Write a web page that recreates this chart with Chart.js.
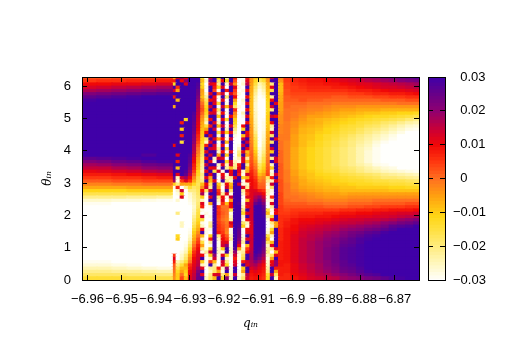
<!DOCTYPE html>
<html>
<head>
<meta charset="utf-8">
<script src="https://cdn.jsdelivr.net/npm/chart.js@4"></script>
<style>
html, body { margin: 0; padding: 0; background: #fff; }
canvas { position: absolute; left: 0; top: 0; }
</style>
</head>
<body>
<canvas id="map" width="505" height="355"></canvas>
<canvas id="bar" width="505" height="355"></canvas>
<script>
// axes
const xTickValues = [-6.96, -6.95, -6.94, -6.93, -6.92, -6.91, -6.9, -6.89, -6.88, -6.87];
const yTickValues = [0, 1, 2, 3, 4, 5, 6];
const zTickValues = [-30, -20, -10, 0, 10, 20, 30];
const zTickLabels = ['-0.03', '-0.02', '-0.01', '0', '0.01', '0.02', '0.03'];

// cell centres along q_in: wide cells where the map is smooth, narrow ones in the chaotic band
const qLeft = [-6.9594, -6.955, -6.9506, -6.9462, -6.9418, -6.9374];
const qMid = [-6.9346, -6.9334, -6.9322, -6.931, -6.9298, -6.9286, -6.9274, -6.9262, -6.925, -6.9238, -6.9226, -6.9214, -6.9202,
  -6.919, -6.9178, -6.9166, -6.9154, -6.9142, -6.913, -6.9118, -6.9106, -6.9094, -6.9082, -6.907, -6.9058, -6.9046, -6.9034];
const qRight = [-6.9016, -6.8992, -6.8968, -6.8944, -6.892, -6.8896, -6.8872, -6.8848, -6.8824, -6.88, -6.8776, -6.8752, -6.8728, -6.8704, -6.868, -6.8656, -6.8632];
// lower edge of each row along theta_in, last value closes the top row
const thetaEdges = [0, 0.1, 0.2, 0.3, 0.4, 0.5, 0.6, 0.7, 0.8, 0.9, 1, 1.1, 1.2, 1.3, 1.4, 1.5, 1.6, 1.7, 1.8, 1.9,
  2, 2.1, 2.2, 2.3, 2.4, 2.5, 2.6, 2.7, 2.8, 2.9, 3, 3.1, 3.2, 3.3, 3.4, 3.5, 3.6, 3.7, 3.8, 3.9,
  4, 4.1, 4.2, 4.3, 4.4, 4.5, 4.6, 4.7, 4.8, 4.9, 5, 5.1, 5.2, 5.3, 5.4, 5.5, 5.6, 5.7, 5.8, 5.9, 6, 6.1, 6.2, 6.3];

// values in units of 0.001, one list per row, top row first
const row62 = [3,3,4,4,4,5, -5,12,18,10,30,30,30,-12,-30,14,30,-10,30,-22,30,8,-28,-30,8,-3,-8,-14,-10,-2,14,30,-2, 5,7,8,9,10,11,12,14,15,16,18,19,21,22,24,25,27];
const row61 = [5,6,6,7,7,8, 8,30,10,20,30,30,30,-8,-26,22,30,-18,10,-12,30,3,-30,-28,12,-4,-12,-18,-14,-4,30,30,-4, 5,7,8,9,9,10,11,12,13,14,16,17,18,19,21,22,23];
const row60 = [10,10,11,11,12,13, -12,30,30,12,30,30,28,-12,-30,12,10,-22,30,-26,14,-3,-30,-26,16,-5,-15,-24,-20,-6,-20,30,-8, 4,6,7,8,8,9,9,10,11,12,12,13,14,15,16,17,18];
const row59 = [13,14,15,16,17,18, 30,6,30,30,30,30,27,-10,-28,30,8,-12,12,-30,30,12,-28,-30,30,-6,-18,-26,-22,-7,12,30,-8, 4,5,6,7,7,7,8,8,9,10,11,12,13,13,14,15,16];
const row58 = [17,18,19,20,21,22, 14,-5,30,30,30,30,25,-5,-30,30,4,-28,30,8,30,5,-30,-28,12,-6,-20,-28,-24,-8,-15,30,-8, 3,5,5,6,6,6,6,6,7,8,8,9,10,11,11,12,13];
const row57 = [22,23,24,25,26,27, 30,30,30,30,30,30,24,-6,-26,12,30,2,14,-30,12,2,-28,-30,30,-7,-22,-29,-26,-9,30,30,-7, 3,4,4,4,4,4,4,4,5,5,6,7,7,8,8,9,10];
const row56 = [26,27,28,29,30,30, 8,30,30,30,30,30,22,-8,-22,30,10,-28,30,-18,30,10,-30,-30,10,-8,-24,-30,-28,-10,-22,30,-6, 2,3,3,3,3,3,2,2,3,3,3,4,4,5,5,6,6];
const row55 = [29,30,30,30,30,30, 30,-8,30,30,30,30,20,-4,-18,10,14,-30,12,-30,30,-5,-30,-26,30,-8,-25,-30,-30,-11,10,30,-6, 2,2,3,2,2,1,1,1,1,1,1,1,2,2,2,3,3];
const row54 = [30,30,30,30,30,30, 30,30,30,30,30,30,18,0,-15,30,12,-14,30,-28,30,-12,-30,-28,12,-8,-26,-30,-30,-12,30,12,-5, 1,1,1,0,0,0,-1,-1,-1,-1,-1,-1,-1,-1,0,0,0];
const row53 = [30,30,30,30,30,30, -6,30,30,30,30,30,17,2,-12,14,30,-30,14,-8,14,-18,-28,-30,30,-8,-26,-30,-30,-12,14,30,-5, 1,0,0,-1,-1,-2,-3,-3,-3,-4,-4,-4,-4,-4,-4,-4,-4];
const row52 = [30,30,30,30,30,30, 30,30,30,30,30,30,16,3,-10,30,10,-18,30,-30,30,6,-30,-30,10,-8,-26,-30,-30,-12,-20,30,-5, 0,0,-1,-2,-2,-3,-4,-5,-5,-6,-6,-6,-7,-7,-7,-7,-7];
const row51 = [30,30,30,30,30,30, 30,30,30,30,30,28,15,1,-12,12,14,-24,10,-28,30,-2,-30,-24,30,-8,-25,-30,-30,-11,30,30,-4, 0,-1,-2,-3,-4,-5,-6,-7,-7,-8,-9,-9,-10,-10,-11,-11,-12];
const row50 = [30,30,30,30,30,30, 30,30,30,30,30,27,14,-2,-15,30,30,-10,30,-30,10,-5,-30,-28,12,-7,-25,-30,-30,-10,14,10,-3, 0,-1,-3,-5,-5,-6,-7,-8,-9,-10,-11,-12,-12,-13,-14,-15,-16];
const row49 = [30,30,30,30,30,30, 30,30,30,-12,30,27,13,-4,-20,10,30,-28,12,-14,30,-10,-30,-30,30,-6,-24,-30,-29,-10,30,30,-3, 0,-2,-4,-6,-7,-8,-9,-10,-11,-12,-13,-14,-15,-16,-17,-19,-21];
const row48 = [30,30,30,30,30,30, 30,30,8,30,30,26,12,-6,-25,30,12,-25,30,-30,30,-12,-30,-30,10,-6,-24,-30,-28,-10,10,30,-3, -1,-3,-5,-6,-7,-9,-10,-11,-12,-14,-15,-16,-18,-19,-21,-23,-24];
const row47 = [30,30,30,30,30,30, 30,30,30,30,30,25,11,-7,-14,8,30,-8,14,-28,14,-16,-30,10,30,-5,-23,-30,-28,-9,-22,30,-2, -1,-3,-6,-7,-8,-10,-11,-13,-14,-15,-17,-18,-20,-22,-24,-26,-27];
const row46 = [30,30,30,30,30,30, 30,30,-10,30,30,25,10,-8,-5,30,14,-30,30,-25,30,-20,-30,-12,30,-4,-22,-30,-28,-8,-25,30,-2, -1,-4,-7,-8,-9,-11,-12,-14,-15,-17,-19,-20,-22,-24,-26,-28,-29];
const row45 = [30,30,30,30,30,30, 30,30,30,30,30,24,9,-9,10,30,30,-14,12,-10,12,-24,-30,30,10,-4,-20,-30,-27,-7,14,30,-2, -1,-4,-7,-8,-10,-11,-13,-15,-16,-18,-20,-22,-24,-26,-28,-30,-30];
const row44 = [30,30,30,30,30,30, 30,30,8,30,30,22,7,-10,30,12,30,-28,30,-30,30,-28,-30,-8,12,-3,-18,-30,-26,-6,-18,30,-1, -1,-5,-8,-9,-11,-13,-14,-16,-18,-20,-22,-24,-26,-28,-30,-30,-30];
const row43 = [30,30,30,30,30,30, 30,30,30,30,30,21,6,-11,-18,30,12,-6,10,-28,14,-30,-30,14,30,-3,-16,-30,-25,-5,30,12,-1, -1,-5,-8,-9,-11,-13,-15,-17,-19,-21,-23,-25,-27,-29,-30,-30,-30];
const row42 = [30,30,30,30,30,30, 30,30,-14,30,30,20,4,-12,-25,12,30,-30,30,-8,30,-30,-30,30,14,-2,-15,-30,-24,-5,-18,30,0, -2,-5,-8,-10,-12,-14,-16,-18,-20,-22,-24,-27,-29,-30,-30,-30,-30];
const row41 = [30,30,30,30,30,30, 10,30,30,30,30,18,2,-14,8,30,14,-28,12,-30,30,-30,-28,14,30,-1,-14,-30,-23,-4,30,30,0, -2,-5,-8,-10,-12,-14,-16,-18,-20,-23,-25,-28,-30,-30,-30,-30,-30];
const row40 = [30,30,30,30,30,30, 30,30,30,30,30,17,0,-15,30,14,12,-22,30,-14,30,-30,-25,30,12,0,-12,-28,-22,-3,14,30,0, -2,-6,-9,-11,-13,-15,-17,-19,-21,-24,-26,-29,-30,-30,-30,-30,-30];
const row39 = [30,30,30,30,30,30, 30,30,30,30,30,16,-1,-16,12,30,30,-26,10,-28,12,-30,-20,12,-8,1,-10,-27,-20,-3,-10,30,1, -2,-6,-9,-11,-13,-15,-17,-19,-21,-24,-27,-29,-30,-30,-30,-30,-30];
const row38 = [30,30,30,30,28,30, 30,12,30,30,28,14,-3,-17,30,14,30,-6,30,-10,30,-30,-18,30,-5,2,-8,-26,-18,-2,30,30,1, -2,-6,-9,-11,-13,-15,-17,-19,-21,-24,-27,-29,-30,-30,-30,-30,-30];
const row37 = [26,27,28,29,30,30, 30,30,30,30,27,12,-5,-19,10,30,-25,14,12,-30,30,-28,-24,14,-22,2,-6,-24,-16,-1,-22,14,1, -2,-6,-9,-11,-13,-15,-17,-19,-21,-24,-27,-29,-30,-30,-30,-30,-30];
const row36 = [22,23,25,26,28,29, 30,8,30,30,26,10,-6,-20,30,12,-28,30,30,-12,14,-25,-28,12,-8,3,-4,-22,-15,0,30,12,1, -2,-6,-9,-11,-13,-15,-17,-19,-21,-24,-27,-29,-30,-30,-30,-30,-30];
const row35 = [18,19,21,22,24,25, 30,30,30,30,24,8,-8,-22,14,30,30,-25,12,-25,14,-22,8,30,-20,4,-2,-18,-12,1,-25,30,2, -2,-6,-9,-11,-13,-15,-17,-19,-21,-23,-25,-28,-29,-30,-30,-30,-30];
const row34 = [15,15,17,18,20,21, 30,-8,30,30,22,7,-9,-22,30,10,12,-28,30,-22,-8,-20,12,30,-8,5,0,-16,-10,2,-10,30,2, -2,-6,-9,-11,-13,-15,-16,-18,-19,-21,-23,-25,-27,-28,-30,-30,-30];
const row33 = [11,12,13,14,16,17, 30,30,30,28,19,5,-11,-24,12,30,-15,14,-28,30,10,30,12,-26,-6,7,2,-12,-8,3,-28,30,2, -1,-5,-8,-10,-12,-14,-15,-17,-18,-20,-22,-23,-25,-26,-27,-28,-29];
const row32 = [8,8,9,10,11,12, 30,12,30,26,16,2,-12,-20,30,12,30,-28,10,-28,12,30,8,-28,14,8,3,-8,-5,4,-25,14,2, -1,-5,-8,-9,-11,-12,-13,-15,-16,-17,-18,-19,-21,-22,-23,-24,-25];
const row31 = [5,5,6,6,7,8, 24,-24,14,18,10,-2,-15,-22,12,-5,30,-30,14,-25,-22,12,30,-12,-6,9,5,-4,-2,-18,8,30,2, -1,-4,-7,-9,-10,-11,-12,-13,-14,-15,-16,-17,-19,-19,-20,-21,-22];
const row30 = [2,2,3,3,4,4, 18,-28,5,12,6,-6,-16,-20,30,-8,12,-28,30,-20,-25,30,30,-28,10,10,7,-2,0,-22,-25,12,3, -1,-4,-6,-8,-9,-10,-11,-12,-13,-13,-14,-15,-15,-16,-16,-17,-18];
const row29 = [-2,-2,-1,-1,0,0, -10,-20,-5,-6,-6,-12,-17,-8,10,-18,30,-10,-26,10,-8,30,14,-28,-25,10,8,1,1,-26,14,30,3, 0,-3,-6,-7,-8,-9,-10,-10,-11,-12,-12,-13,-13,-14,-14,-15,-15];
const row28 = [-6,-6,-6,-5,-5,-5, -28,8,-30,-22,-14,-18,-16,-3,14,-22,30,-5,-30,14,-5,30,30,12,-22,11,8,2,2,-28,-18,30,3, 0,-3,-5,-6,-7,-8,-8,-9,-9,-10,-10,-10,-10,-11,-11,-12,-12];
const row27 = [-11,-11,-11,-10,-10,-10, -30,-25,14,-30,-20,-20,-17,10,-18,14,30,6,-28,30,-18,30,30,-22,8,12,12,8,6,-24,-28,30,3, 0,-2,-4,-5,-6,-7,-7,-8,-8,-8,-8,-8,-8,-9,-9,-9,-9];
const row26 = [-16,-16,-16,-16,-16,-16, -30,-28,-10,-30,-26,-22,-18,18,-28,30,30,8,-22,12,-28,30,30,-25,5,12,14,14,10,-25,-30,30,4, 0,-1,-2,-3,-4,-5,-5,-6,-5,-5,-5,-5,-5,-5,-5,-5,-5];
const row25 = [-21,-21,-21,-22,-22,-23, -30,-30,12,-30,-27,-23,-19,-10,-30,12,30,-20,10,-28,14,30,30,-30,12,12,17,20,14,-28,6,30,4, 0,0,-1,-2,-3,-4,-4,-4,-3,-3,-3,-3,-3,-3,-3,-3,-3];
const row24 = [-26,-26,-27,-27,-28,-29, -30,-26,-30,-30,-28,-24,-20,-25,-30,30,30,-25,12,-30,-5,30,30,-30,-8,12,20,25,18,-28,-25,30,4, 1,0,0,-1,-1,-2,-2,-2,-1,-1,-1,0,0,0,0,0,0];
const row23 = [-29,-29,-30,-30,-30,-30, -30,-30,-30,-30,-29,-25,-19,12,-30,-5,30,-28,6,-8,10,30,28,-28,14,13,25,28,22,-30,12,30,4, 2,2,2,1,1,0,0,0,1,1,1,2,2,2,2,3,3];
const row22 = [-30,-30,-30,-30,-30,-30, -30,-30,-30,-30,-30,-26,-18,8,-30,-28,30,6,0,0,10,30,30,-25,10,14,30,30,26,-30,-22,30,5, 3,3,3,3,3,2,2,2,3,3,4,4,5,5,5,6,6];
const row21 = [-30,-30,-30,-30,-30,-30, -30,-30,-30,-30,-30,-25,-16,-28,-30,-30,30,5,1,0,-15,30,30,-18,30,14,30,30,27,-15,-28,12,5, 4,5,5,5,5,5,5,6,6,7,7,8,8,9,9,9,10];
const row20 = [-30,-30,-30,-30,-30,-30, -30,-20,-30,-30,-30,-24,-15,-30,-28,-30,30,6,2,0,-28,30,30,-12,12,14,30,30,28,-8,-30,10,5, 5,6,7,7,7,8,8,9,9,10,10,11,12,12,13,13,14];
const row19 = [-30,-30,-30,-30,-30,-30, -30,-30,-30,-30,-30,-22,-14,14,-30,-28,30,5,1,-1,-25,30,30,-25,30,14,30,30,29,-22,-15,30,6, 6,7,8,8,9,9,10,11,11,12,12,13,13,14,15,16,17];
const row18 = [-30,-30,-30,-30,-30,-30, -30,-30,-30,-30,-30,-20,-12,-15,-30,-30,30,4,0,-2,-22,30,30,-28,10,14,30,30,30,-28,8,30,6, 7,9,10,10,11,11,12,13,14,14,15,15,16,17,19,20,22];
const row17 = [-30,-30,-30,-30,-30,-30, -30,-30,-25,-30,-30,-18,-10,-28,-30,-22,30,5,2,-1,12,30,29,-18,-25,13,30,30,30,-30,-20,-5,6, 8,9,11,11,12,13,14,15,15,16,17,18,20,21,23,24,26];
const row16 = [-30,-30,-30,-30,-30,-30, -30,-30,-25,-30,-30,-16,-8,-25,-30,-20,30,6,3,0,8,30,28,-10,-28,12,30,30,30,-30,-25,-5,6, 8,10,12,13,14,15,16,17,18,19,20,21,23,26,27,28,30];
const row15 = [-30,-30,-30,-30,-30,-30, -30,-30,-30,-30,-29,-13,-6,12,-28,-28,30,6,4,-1,-28,30,26,-30,10,12,30,30,30,-28,-12,30,7, 9,10,13,14,15,16,17,19,20,21,23,24,26,28,30,30,30];
const row14 = [-30,-30,-30,-30,-30,-30, -30,-30,-30,-30,-28,-10,-3,30,-28,-30,30,8,5,-2,-28,30,25,-30,12,12,30,30,30,-26,-5,30,7, 9,11,14,15,16,18,19,21,23,24,26,27,29,30,30,30,30];
const row13 = [-30,-30,-30,-30,-30,-30, -30,-12,-30,-30,-26,-8,0,-8,-30,-10,30,-20,8,2,-25,30,24,-28,30,13,30,30,29,-15,-25,30,7, 9,12,14,16,17,19,20,22,24,26,28,29,30,30,30,30,30];
const row12 = [-30,-30,-30,-30,-30,-30, -30,-10,-30,-30,-24,-6,3,-25,-30,8,30,-25,10,5,-22,30,22,-25,12,14,30,30,28,-8,-30,30,7, 9,12,15,16,18,20,22,24,26,28,29,30,30,30,30,30,30];
const row11 = [-30,-30,-30,-30,-30,-30, -30,-30,-30,-29,-21,-3,5,-15,-30,-22,30,-28,12,12,-28,30,18,-22,30,14,30,30,27,-18,-8,30,8, 9,12,15,17,19,21,22,25,26,28,30,30,30,30,30,30,30];
const row10 = [-30,-30,-30,-30,-30,-30, -30,-30,-30,-28,-18,0,8,-5,-30,-28,30,-28,14,20,-28,30,12,-28,-8,14,30,30,26,-25,12,30,8, 9,12,15,17,19,21,23,26,27,29,30,30,30,30,30,30,30];
const row09 = [-30,-30,-30,-30,-30,-30, -30,-30,-30,-26,-14,3,10,-20,-28,-10,30,-26,-10,30,-26,28,-5,-25,5,15,30,29,24,-22,-22,12,8, 9,12,15,17,19,22,24,27,28,29,30,30,30,30,30,30,30];
const row08 = [-30,-30,-30,-30,-30,-30, -30,-30,-28,-24,-10,6,12,-28,-22,14,30,-25,-28,30,-25,20,-25,-22,10,16,30,28,22,-20,-30,-8,8, 9,12,15,17,19,22,24,27,28,29,30,30,30,30,30,30,30];
const row07 = [-30,-30,-30,-30,-30,-30, 5,-30,-26,-20,-6,8,13,10,-28,-10,20,-28,12,-12,-28,14,-28,-18,30,17,28,25,19,-25,-18,12,8, 9,12,15,17,19,22,24,27,28,29,30,30,30,30,30,30,30];
const row06 = [-30,-30,-30,-30,-30,-30, 12,-30,-25,-18,-3,10,14,30,-30,-25,14,-28,30,-26,-30,8,-28,-15,30,18,26,22,16,-28,-5,30,8, 9,12,15,17,19,22,24,27,28,29,30,30,30,30,30,30,30];
const row05 = [-29,-29,-30,-30,-30,-30, 8,-24,-20,-14,0,11,15,-10,-28,5,-8,-30,14,-20,-30,12,-30,8,14,17,22,18,13,-26,10,20,9, 9,12,15,17,19,21,24,26,28,29,30,30,30,30,30,30,30];
const row04 = [-27,-27,-28,-29,-30,-30, 2,-20,-14,-6,6,12,16,-25,-28,30,-22,-30,12,-12,-30,14,-30,30,12,16,18,14,10,-25,12,20,9, 8,11,14,16,18,21,23,26,27,29,30,30,30,30,30,30,30];
const row03 = [-24,-24,-25,-26,-27,-28, 1,-16,-8,-8,8,13,19,12,-30,-22,-20,8,-26,20,-28,30,-30,-10,30,13,15,12,9,-22,30,8,8, 8,11,14,16,18,20,22,25,26,28,30,30,30,30,30,30,30];
const row02 = [-21,-21,-22,-22,-23,-24, 0,-12,-5,-10,10,14,22,30,-30,-25,-18,-5,-28,30,-28,30,-28,-5,30,10,12,10,8,-20,30,-5,8, 8,11,13,15,17,19,21,24,25,27,29,30,30,30,30,30,30];
const row01 = [-18,-18,-18,-19,-19,-20, -2,-10,0,-12,11,15,24,12,-28,-20,12,14,-20,-5,-26,14,-28,-22,16,9,10,9,7,-14,14,-18,8, 7,10,12,14,16,17,19,21,23,25,27,28,30,30,30,30,30];
const row00 = [-14,-14,-14,-15,-15,-16, -3,-10,4,-8,12,16,25,30,-25,-18,-8,30,-12,20,-25,30,-26,-18,14,8,9,8,6,-12,30,-25,7, 7,9,11,13,14,15,16,19,20,21,23,24,26,28,29,30,30];
const rows = [row00, row01, row02, row03, row04, row05, row06, row07, row08, row09, row10, row11, row12, row13, row14, row15,
  row16, row17, row18, row19, row20, row21, row22, row23, row24, row25, row26, row27, row28, row29, row30, row31,
  row32, row33, row34, row35, row36, row37, row38, row39, row40, row41, row42, row43, row44, row45, row46, row47,
  row48, row49, row50, row51, row52, row53, row54, row55, row56, row57, row58, row59, row60, row61, row62];

// colour bar levels
const zLevels = [-30, -29, -28, -27, -26, -25, -24, -23, -22, -21, -20, -19, -18, -17, -16, -15, -14, -13, -12, -11, -10,
  -9, -8, -7, -6, -5, -4, -3, -2, -1, 0, 1, 2, 3, 4, 5, 6, 7, 8, 9, 10, 11, 12, 13, 14, 15, 16, 17, 18, 19, 20,
  21, 22, 23, 24, 25, 26, 27, 28, 29, 30];

// palette stops
const paletteZ = [-30, -25, -20, -15, -11, -5, 0, 5, 10, 14, 20, 25, 30];
const paletteRGB = [[255, 255, 253], [255, 247, 190], [255, 236, 128], [255, 224, 64], [255, 214, 22], [255, 160, 16], [255, 112, 32],
  [255, 56, 16], [240, 8, 8], [208, 0, 48], [144, 0, 112], [104, 0, 136], [64, 0, 168]];

function colourFor(z) {
  z = Math.max(-30, Math.min(30, z));
  let k = 0;
  while (k < paletteZ.length - 2 && z > paletteZ[k + 1]) k++;
  const t = (z - paletteZ[k]) / (paletteZ[k + 1] - paletteZ[k]);
  const c = paletteRGB[k].map((v, n) => Math.round(v + (paletteRGB[k + 1][n] - v) * t));
  return `rgb(${c[0]},${c[1]},${c[2]})`;
}

const tickFont = { family: '"Liberation Sans"', size: 13 };
const titleFont = { family: '"DejaVu Serif"', size: 12, style: 'italic' };
const minus = s => s.replace('-', '\u2212');

// an axis with inward ticks, pinned to a fixed thickness so the plot box lands where it should
function boxAxis(position, thickness, list, extra) {
  const horizontal = position === 'top' || position === 'bottom';
  return Object.assign({
    type: 'linear',
    position,
    offset: false,
    border: { display: true, color: '#000', width: 1, z: 2 },
    grid: { drawOnChartArea: false, drawTicks: true, tickLength: -5, tickWidth: 1, tickColor: '#000', offset: false, z: 2 },
    ticks: { display: false, autoSkip: false, maxRotation: 0, font: tickFont, color: '#000' },
    afterBuildTicks: s => { s.ticks = list.map(v => ({ value: v })); },
    afterFit: s => { if (horizontal) s.height = thickness; else s.width = thickness; }
  }, extra);
}

// three blocks of columns per row, each with its own cell width in pixels
const blocks = [
  { q: qLeft, start: 0, width: 15.5 },
  { q: qMid, start: qLeft.length, width: 4.4 },
  { q: qRight, start: qLeft.length + qMid.length, width: 8.4 }
];
const mapDatasets = [];
rows.forEach((row, r) => {
  blocks.forEach(b => {
    mapDatasets.push({
      data: b.q.map(q => ({ x: q, y: [thetaEdges[r], thetaEdges[r + 1]] })),
      backgroundColor: row.slice(b.start, b.start + b.q.length).map(colourFor),
      borderWidth: 0,
      inflateAmount: 0.5,
      grouped: false,
      barThickness: b.width
    });
  });
});

const xRange = { min: -6.9616, max: -6.8629 };
const yRange = { min: 0, max: 6.283 };

new Chart(document.getElementById('map'), {
  type: 'bar',
  data: { datasets: mapDatasets },
  options: {
    responsive: false,
    animation: false,
    layout: { autoPadding: false },
    plugins: { legend: { display: false }, tooltip: { enabled: false } },
    scales: {
      x: boxAxis('bottom', 75, xTickValues, Object.assign({}, xRange, {
        ticks: {
          autoSkip: false, maxRotation: 0, font: tickFont, color: '#000', padding: 17,
          callback: v => minus(String(v))
        },
        title: { display: true, text: 'qᵢₙ', font: titleFont, color: '#000', padding: { top: 0, bottom: 24 } }
      })),
      y: boxAxis('left', 82, yTickValues, Object.assign({}, yRange, {
        ticks: { autoSkip: false, font: tickFont, color: '#000', padding: 16, callback: v => String(v) },
        title: { display: true, text: 'θᵢₙ', font: titleFont, color: '#000', padding: { top: 41, bottom: 0 } }
      })),
      xTop: boxAxis('top', 77, xTickValues, xRange),
      yRight: boxAxis('right', 86, yTickValues, yRange)
    }
  }
});

new Chart(document.getElementById('bar'), {
  type: 'bar',
  data: {
    datasets: [{
      data: zLevels.map(z => ({ y: z, x: [0, 1] })),
      backgroundColor: zLevels.map(colourFor),
      borderWidth: 0,
      inflateAmount: 0.5,
      barPercentage: 1,
      categoryPercentage: 1
    }]
  },
  options: {
    indexAxis: 'y',
    responsive: false,
    animation: false,
    layout: { autoPadding: false },
    plugins: { legend: { display: false }, tooltip: { enabled: false } },
    scales: {
      y: boxAxis('right', 60, zTickValues, {
        min: -30, max: 30,
        ticks: {
          autoSkip: false, font: tickFont, color: '#000', padding: 13, crossAlign: 'near',
          callback: v => {
            const s = zTickLabels[zTickValues.indexOf(v)];
            return s.startsWith('-') ? minus(s) : '\u2007' + s;
          }
        }
      }),
      yLeft: boxAxis('left', 428, zTickValues, { min: -30, max: 30 }),
      x: boxAxis('bottom', 75, [], { min: 0, max: 1 }),
      xTop: boxAxis('top', 77, [], { min: 0, max: 1 })
    }
  }
});
</script>
</body>
</html>
